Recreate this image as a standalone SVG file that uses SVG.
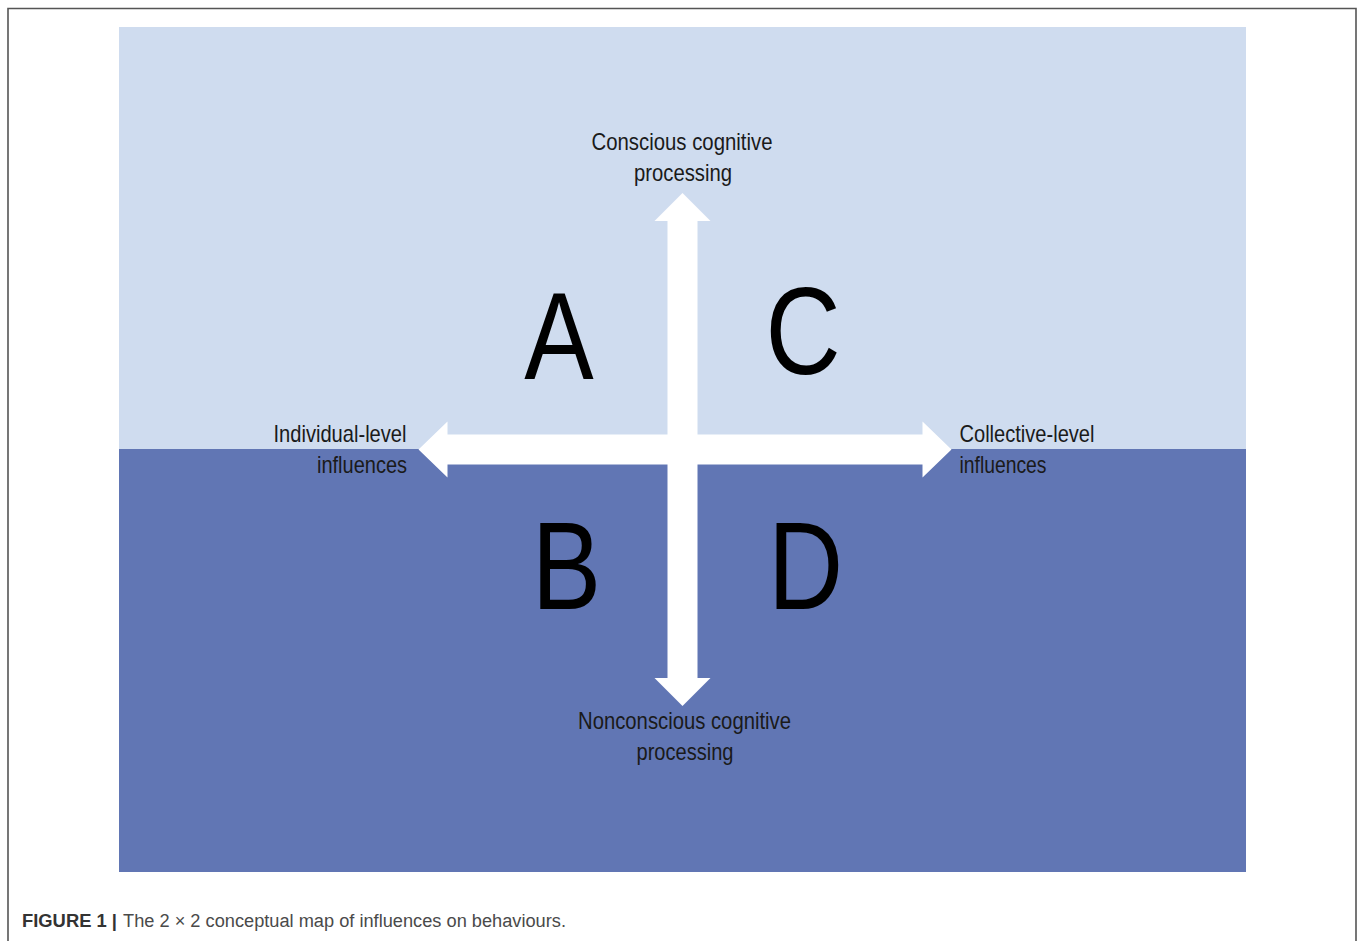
<svg xmlns="http://www.w3.org/2000/svg" width="1358" height="941" viewBox="0 0 1358 941">
<style>
.lbl{font-family:"Liberation Sans",Arial,sans-serif;font-size:24px;fill:#1a1a1a;}
.big{font-family:"Liberation Sans",Arial,sans-serif;font-size:124px;fill:#000;text-anchor:middle;}
.cap{font-family:"Liberation Sans",Arial,sans-serif;font-size:18px;}
.arrow{fill:#ffffff;}
</style>
<rect x="0" y="0" width="1358" height="941" fill="#ffffff"/>
<path d="M8,948 L8,8.5 L1356,8.5 L1356,948" fill="none" stroke="#555555" stroke-width="1.6"/>
<g id="background">
<rect x="119" y="27" width="1127" height="423" fill="#CFDCEF"/>
<rect x="119" y="449" width="1127" height="423" fill="#6176B4"/>
</g>
<g id="connectors">
<path class="arrow" d="M682.5,193 L710.5,221 L697.5,221 L697.5,678 L710.5,678 L682.5,706 L654.5,678 L667.5,678 L667.5,221 L654.5,221 Z"/>
<path class="arrow" d="M418.5,449.5 L447.5,421.5 L447.5,434.5 L922.5,434.5 L922.5,421.5 L951.5,449.5 L922.5,477.5 L922.5,464.5 L447.5,464.5 L447.5,477.5 Z"/>
</g>
<g id="node-conscious">
<text class="lbl" x="591.5" y="150" textLength="181" lengthAdjust="spacingAndGlyphs">Conscious cognitive</text>
<text class="lbl" x="634" y="181" textLength="98" lengthAdjust="spacingAndGlyphs">processing</text>
</g>
<g id="node-nonconscious">
<text class="lbl" x="578" y="729" textLength="213" lengthAdjust="spacingAndGlyphs">Nonconscious cognitive</text>
<text class="lbl" x="636.5" y="760" textLength="97" lengthAdjust="spacingAndGlyphs">processing</text>
</g>
<g id="node-individual">
<text class="lbl" x="273.5" y="442" textLength="133" lengthAdjust="spacingAndGlyphs">Individual-level</text>
<text class="lbl" x="317" y="473" textLength="90" lengthAdjust="spacingAndGlyphs">influences</text>
</g>
<g id="node-collective">
<text class="lbl" x="959.5" y="442" textLength="135" lengthAdjust="spacingAndGlyphs">Collective-level</text>
<text class="lbl" x="959.5" y="473" textLength="87" lengthAdjust="spacingAndGlyphs">influences</text>
</g>
<g id="node-A"><text class="big" transform="translate(559,379) scale(0.84,1)">A</text></g>
<g id="node-C"><text class="big" transform="translate(803,373.5) scale(0.84,1)">C</text></g>
<g id="node-B"><text class="big" transform="translate(566.5,609) scale(0.84,1)">B</text></g>
<g id="node-D"><text class="big" transform="translate(805.5,609) scale(0.84,1)">D</text></g>
<g id="caption">
<text class="cap" x="22" y="927" font-weight="bold" fill="#333333" textLength="95" lengthAdjust="spacingAndGlyphs">FIGURE 1 |</text>
<text class="cap" x="123" y="927" fill="#4a4a4a" textLength="443" lengthAdjust="spacingAndGlyphs">The 2 × 2 conceptual map of influences on behaviours.</text>
</g>
</svg>
